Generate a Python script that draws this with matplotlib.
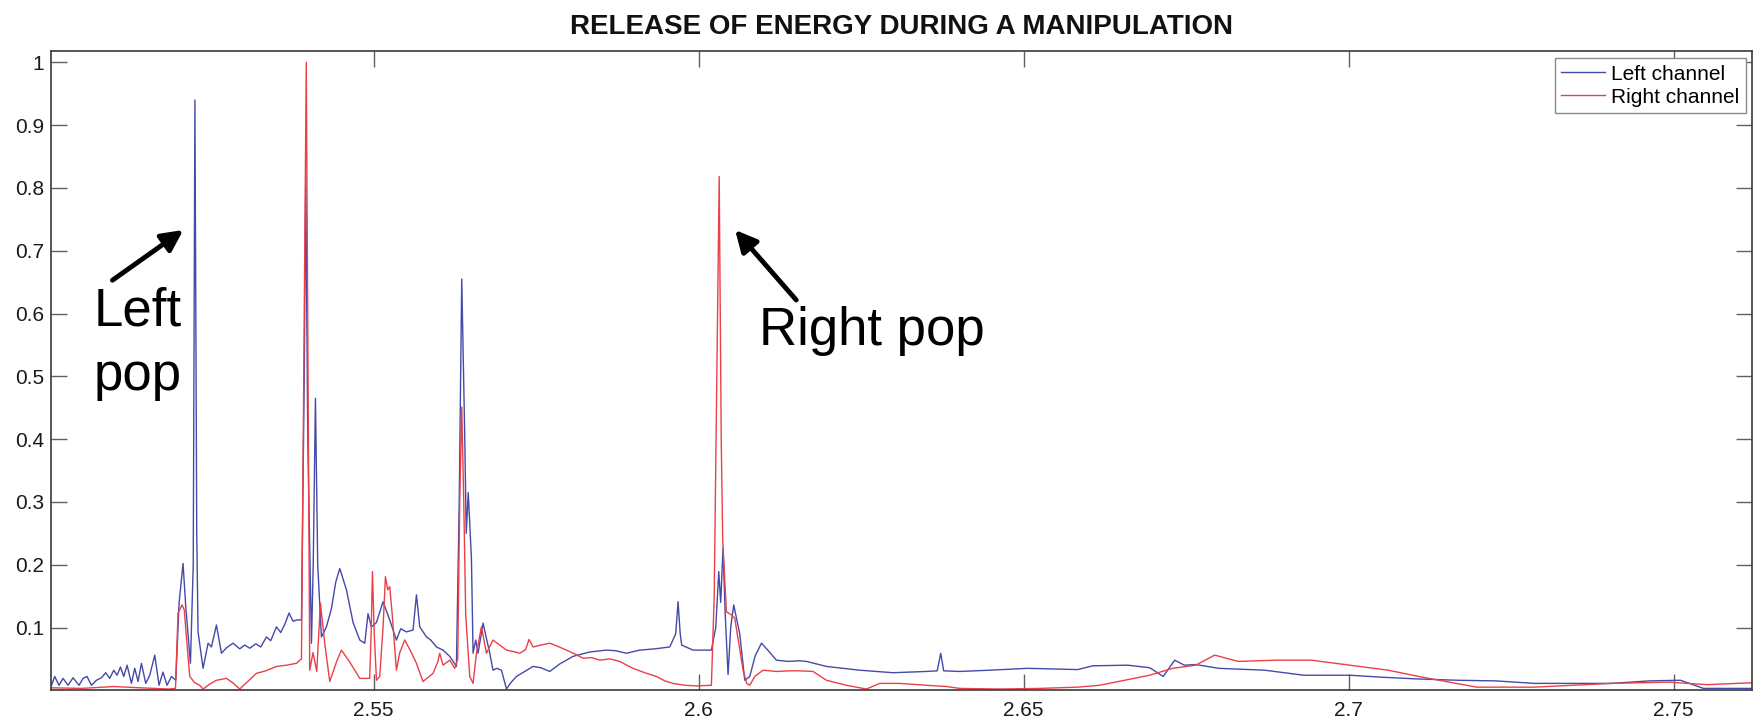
import matplotlib
matplotlib.use("Agg")
import matplotlib.pyplot as plt

plt.rcParams['font.family'] = ['Liberation Sans', 'DejaVu Sans']

title = "RELEASE OF ENERGY DURING A MANIPULATION"
series_names = ["Left channel", "Right channel"]

left_x = [2.5003, 2.50042, 2.50092, 2.50158, 2.5022, 2.50297, 2.50374, 2.50466, 2.50528, 2.50589,
          2.50657, 2.50734, 2.50811, 2.50877, 2.50938, 2.51, 2.51051, 2.51103, 2.51154, 2.51205,
          2.51272, 2.51323, 2.51374, 2.51426, 2.51492, 2.51554, 2.51631, 2.51697, 2.51758, 2.5182,
          2.51888, 2.51954, 2.52005, 2.52066, 2.52108, 2.5218, 2.52223, 2.52249, 2.52277, 2.52297,
          2.52374, 2.52451, 2.52503, 2.5258, 2.52657, 2.52738, 2.52835, 2.52938, 2.53015, 2.53092,
          2.53185, 2.53262, 2.53349, 2.53415, 2.53503, 2.53569, 2.53631, 2.53697, 2.53758, 2.53815,
          2.53888, 2.53931, 2.53954, 2.53985, 2.54042, 2.54069, 2.54103, 2.54138, 2.54195, 2.54272,
          2.54349, 2.54415, 2.54477, 2.5458, 2.54682, 2.54785, 2.54862, 2.54912, 2.54965, 2.55042,
          2.55143, 2.55246, 2.55349, 2.55415, 2.55503, 2.55605, 2.55657, 2.55708, 2.55811, 2.55877,
          2.55965, 2.56066, 2.56169, 2.56272, 2.56315, 2.56354, 2.564, 2.56423, 2.56454, 2.56503,
          2.56528, 2.56569, 2.56605, 2.56682, 2.56785, 2.56835, 2.56892, 2.56965, 2.57042, 2.57108,
          2.57195, 2.57323, 2.57451, 2.57569, 2.57708, 2.57862, 2.58066, 2.58323, 2.5858, 2.58723,
          2.58888, 2.59092, 2.59323, 2.59554, 2.59646, 2.59682, 2.59715, 2.59738, 2.59912, 2.60195,
          2.60262, 2.60308, 2.60338, 2.60374, 2.60408, 2.60451, 2.60492, 2.60538, 2.60631, 2.60708,
          2.60785, 2.60869, 2.60965, 2.61062, 2.61195, 2.61369, 2.61554, 2.61657, 2.61965, 2.62477,
          2.62989, 2.63503, 2.63669, 2.63723, 2.63769, 2.64015, 2.64477, 2.65062, 2.65831, 2.66062,
          2.666, 2.66938, 2.67146, 2.67323, 2.67471, 2.67646, 2.68, 2.68708, 2.69308, 2.70015,
          2.70477, 2.71077, 2.71672, 2.72262, 2.72855, 2.74038, 2.74631, 2.75105, 2.75458, 2.762]
left_y = [0.010, 0.008, 0.022, 0.008, 0.019, 0.008, 0.020, 0.008, 0.019, 0.022,
          0.008, 0.016, 0.020, 0.028, 0.019, 0.032, 0.024, 0.037, 0.022, 0.040,
          0.011, 0.035, 0.014, 0.043, 0.011, 0.024, 0.056, 0.008, 0.029, 0.008,
          0.022, 0.016, 0.139, 0.202, 0.133, 0.043, 0.200, 0.940, 0.250, 0.093,
          0.035, 0.075, 0.069, 0.104, 0.059, 0.068, 0.075, 0.066, 0.072, 0.067,
          0.074, 0.069, 0.085, 0.079, 0.101, 0.092, 0.105, 0.123, 0.110, 0.112,
          0.112, 0.500, 0.820, 0.400, 0.075, 0.200, 0.465, 0.200, 0.085, 0.101,
          0.130, 0.172, 0.194, 0.160, 0.108, 0.080, 0.075, 0.122, 0.101, 0.108,
          0.141, 0.112, 0.080, 0.098, 0.093, 0.096, 0.152, 0.101, 0.085, 0.080,
          0.069, 0.064, 0.054, 0.038, 0.300, 0.655, 0.404, 0.250, 0.315, 0.210,
          0.059, 0.080, 0.059, 0.107, 0.059, 0.032, 0.035, 0.032, 0.002, 0.012,
          0.022, 0.030, 0.038, 0.036, 0.030, 0.042, 0.054, 0.061, 0.064, 0.063,
          0.059, 0.064, 0.066, 0.069, 0.090, 0.141, 0.090, 0.072, 0.064, 0.064,
          0.100, 0.189, 0.140, 0.226, 0.120, 0.025, 0.100, 0.136, 0.090, 0.016,
          0.022, 0.055, 0.075, 0.064, 0.048, 0.046, 0.047, 0.046, 0.038, 0.032,
          0.028, 0.030, 0.031, 0.059, 0.031, 0.030, 0.032, 0.035, 0.033, 0.039,
          0.040, 0.036, 0.022, 0.048, 0.040, 0.041, 0.035, 0.032, 0.024, 0.024,
          0.021, 0.018, 0.016, 0.015, 0.011, 0.011, 0.015, 0.016, 0.003, 0.003]

right_x = [2.5003, 2.505, 2.51, 2.514, 2.5185, 2.5195, 2.51989, 2.52051, 2.52085, 2.52118,
           2.52169, 2.52246, 2.52323, 2.52374, 2.52477, 2.5258, 2.52734, 2.52831, 2.52938, 2.53062,
           2.53195, 2.53338, 2.53503, 2.53662, 2.53811, 2.53888, 2.53931, 2.53962, 2.53992, 2.54015,
           2.54066, 2.54123, 2.5418, 2.54246, 2.54323, 2.54426, 2.54503, 2.54631, 2.54785, 2.54938,
           2.54962, 2.5498, 2.55008, 2.55042, 2.55092, 2.55143, 2.5518, 2.55215, 2.55246, 2.55285,
           2.55323, 2.55349, 2.554, 2.55477, 2.55569, 2.55657, 2.55758, 2.55912, 2.55985, 2.56015,
           2.56066, 2.56169, 2.56246, 2.56292, 2.56323, 2.56354, 2.56385, 2.56415, 2.56477, 2.56528,
           2.5658, 2.56657, 2.56734, 2.56835, 2.56938, 2.57042, 2.57138, 2.57246, 2.57338, 2.57389,
           2.57451, 2.57569, 2.57708, 2.57831, 2.57965, 2.58092, 2.5822, 2.58354, 2.58477, 2.58631,
           2.58785, 2.58892, 2.58989, 2.59169, 2.59349, 2.59477, 2.59605, 2.59785, 2.59965, 2.60195,
           2.60238, 2.60285, 2.60315, 2.60346, 2.60369, 2.60426, 2.60503, 2.60554, 2.60682, 2.60738,
           2.60785, 2.60862, 2.60989, 2.61195, 2.614, 2.61554, 2.61758, 2.61965, 2.62272, 2.6258,
           2.62785, 2.63092, 2.63503, 2.63811, 2.64015, 2.64631, 2.65246, 2.65831, 2.66169, 2.66554,
           2.66938, 2.67292, 2.67646, 2.67938, 2.683, 2.68892, 2.69423, 2.70015, 2.70608, 2.71077,
           2.71554, 2.71969, 2.72855, 2.74038, 2.74923, 2.75518, 2.762]
right_y = [0.004, 0.003, 0.006, 0.004, 0.002, 0.003, 0.123, 0.136, 0.128, 0.085,
           0.022, 0.012, 0.008, 0.002, 0.010, 0.016, 0.019, 0.012, 0.002, 0.014,
           0.027, 0.031, 0.038, 0.040, 0.043, 0.050, 0.600, 1.000, 0.450, 0.032,
           0.060, 0.030, 0.139, 0.075, 0.014, 0.045, 0.064, 0.045, 0.019, 0.019,
           0.100, 0.189, 0.090, 0.016, 0.022, 0.100, 0.181, 0.160, 0.165, 0.120,
           0.069, 0.032, 0.060, 0.080, 0.062, 0.043, 0.014, 0.027, 0.045, 0.059,
           0.040, 0.048, 0.035, 0.050, 0.300, 0.451, 0.300, 0.120, 0.022, 0.011,
           0.059, 0.101, 0.059, 0.080, 0.072, 0.064, 0.062, 0.059, 0.065, 0.081,
           0.069, 0.072, 0.075, 0.070, 0.064, 0.058, 0.051, 0.052, 0.048, 0.050,
           0.046, 0.040, 0.035, 0.028, 0.022, 0.015, 0.011, 0.008, 0.007, 0.008,
           0.150, 0.550, 0.818, 0.400, 0.239, 0.125, 0.120, 0.115, 0.032, 0.011,
           0.008, 0.022, 0.032, 0.030, 0.031, 0.031, 0.030, 0.016, 0.008, 0.002,
           0.011, 0.011, 0.008, 0.006, 0.003, 0.002, 0.003, 0.005, 0.008, 0.016,
           0.024, 0.035, 0.040, 0.056, 0.046, 0.048, 0.048, 0.040, 0.032, 0.022,
           0.013, 0.005, 0.005, 0.011, 0.013, 0.009, 0.012]

x_ticks = [2.55, 2.6, 2.65, 2.7, 2.75]
x_tick_labels = ["2.55", "2.6", "2.65", "2.7", "2.75"]
y_ticks = [0.1, 0.2, 0.3, 0.4, 0.5, 0.6, 0.7, 0.8, 0.9, 1.0]
y_tick_labels = ["0.1", "0.2", "0.3", "0.4", "0.5", "0.6", "0.7", "0.8", "0.9", "1"]

fig = plt.figure(figsize=(17.53, 7.23), dpi=100)
ax = fig.add_axes([0.02892, 0.04523, 0.97034, 0.88465])

ax.plot(left_x, left_y, color='#4549a8', lw=1.0, label=series_names[0])
ax.plot(right_x, right_y, color='#ea4048', lw=1.0, label=series_names[1])

ax.set_xlim(2.5003, 2.762)
ax.set_ylim(0.0, 1.0185)
ax.set_xticks(x_ticks)
ax.set_xticklabels(x_tick_labels)
ax.set_yticks(y_ticks)
ax.set_yticklabels(y_tick_labels)

ax.tick_params(axis='both', which='both', direction='in', length=11.5, width=1.0,
               color='#606060', labelsize=15, labelcolor='#1a1a1a',
               top=True, right=True)
ax.tick_params(axis='x', pad=8)
ax.tick_params(axis='y', pad=5)
for s in ax.spines.values():
    s.set_color('#3a3a3a')
    s.set_linewidth(1.2)

ax.set_title(title, fontsize=20, fontweight='bold', pad=12, color='#111111')

leg = ax.legend(loc='upper right', bbox_to_anchor=(0.9965, 0.988), borderaxespad=0,
                fontsize=15, frameon=True, fancybox=False, framealpha=1,
                edgecolor='#8a8a8a', handlelength=2.1, handletextpad=0.3,
                labelspacing=0.2, borderpad=0.3)
leg.get_frame().set_linewidth(1.0)

arrow_props = dict(arrowstyle='-|>', lw=3.5, color='black', mutation_scale=32,
                   shrinkA=0, shrinkB=0)
ax.annotate('', xy=(2.5207, 0.733), xytext=(2.5098, 0.653), arrowprops=arrow_props)
ax.annotate('', xy=(2.6056, 0.733), xytext=(2.6150, 0.6215), arrowprops=arrow_props)

ax.text(2.5069, 0.5817, "Left", fontsize=38, ha='left', va='baseline', color='black')
ax.text(2.5069, 0.478, "pop", fontsize=38, ha='left', va='baseline', color='black')
ax.text(2.6092, 0.55, "Right pop", fontsize=38, ha='left', va='baseline', color='black')

fig.savefig("out.png", dpi=100, facecolor='white')
